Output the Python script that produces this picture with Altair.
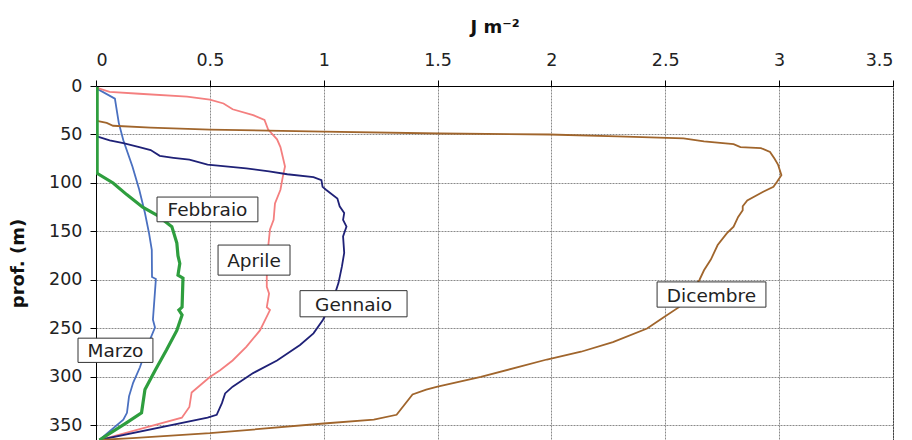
import altair as alt
import pandas as pd

# ---- data ----
marzo_d = [1, 3, 13, 38, 56, 83, 107, 131, 152, 169, 197, 199, 241, 249, 269, 290, 306, 320, 337, 344, 365]
marzo_x = [0.0, 0.005, 0.083, 0.10, 0.12, 0.16, 0.19, 0.215, 0.233, 0.245, 0.246, 0.263, 0.25, 0.259,
           0.224, 0.193, 0.163, 0.145, 0.136, 0.12, 0.015]

febbraio_d = [1, 90, 100, 112, 125, 133, 145, 162, 175, 183, 195, 198, 228, 231, 236, 252, 272, 293, 313, 337, 347, 365]
febbraio_x = [0.005, 0.005, 0.075, 0.135, 0.205, 0.267, 0.333, 0.355, 0.36, 0.368, 0.36, 0.382, 0.378, 0.364,
              0.378, 0.355, 0.31, 0.26, 0.215, 0.20, 0.135, 0.015]

aprile_d = [2, 6, 8, 11, 14, 18, 24, 30, 35, 45, 55, 63, 73, 83, 94, 107, 121, 138, 148, 166, 197, 207, 214,
            228, 231, 252, 269, 283, 293, 300, 316, 331, 342, 365]
aprile_x = [0.005, 0.06, 0.19, 0.40, 0.50, 0.56, 0.60, 0.69, 0.74, 0.756, 0.795, 0.81, 0.82, 0.83, 0.82, 0.81,
            0.786, 0.78, 0.764, 0.756, 0.75, 0.75, 0.76, 0.75, 0.764, 0.72, 0.66, 0.60, 0.545, 0.50, 0.42,
            0.41, 0.377, 0.015]

gennaio_d = [52, 56, 59, 63, 66, 72, 74, 76, 81, 85, 88, 91, 94, 97, 104, 107, 116, 124, 131, 138, 145, 155,
             172, 186, 203, 221, 241, 255, 267, 283, 296, 310, 317, 327, 339, 342, 365]
gennaio_x = [0.004, 0.06, 0.12, 0.19, 0.24, 0.28, 0.34, 0.41, 0.49, 0.66, 0.76, 0.84, 0.955, 0.99, 0.995, 1.01,
             1.06, 1.07, 1.09, 1.085, 1.10, 1.085, 1.09, 1.08, 1.065, 1.04, 0.997, 0.955, 0.896, 0.795, 0.69,
             0.60, 0.567, 0.553, 0.53, 0.49, 0.015]

dicembre_d = [36, 38, 41, 43, 45, 47, 49, 50, 52, 54, 57, 60, 63, 64, 68, 75, 81, 92, 99, 104, 109, 118, 124,
              128, 135, 145, 152, 164, 179, 190, 200, 228, 239, 250, 264, 274, 282, 300, 310, 313, 318, 339,
              344, 348, 358, 363, 365]
dicembre_x = [0.004, 0.047, 0.075, 0.24, 0.5, 1.0, 1.51, 1.99, 2.29, 2.58, 2.67, 2.80, 2.83, 2.92, 2.96, 2.98,
              2.995, 3.01, 2.99, 2.975, 2.93, 2.86, 2.84, 2.84, 2.82, 2.80, 2.77, 2.73, 2.70, 2.67, 2.65, 2.56,
              2.49, 2.42, 2.27, 2.13, 1.98, 1.69, 1.50, 1.45, 1.39, 1.32, 1.22, 1.0, 0.5, 0.16, 0.015]

series_names = ["Dicembre", "Gennaio", "Aprile", "Marzo", "Febbraio"]
series_colors = ["#a0652c", "#1f2177", "#f47f7f", "#4a70c0", "#2e9e3e"]

# label annotations (box bounds in data units and text centre)
label_names = ["Febbraio", "Aprile", "Gennaio", "Dicembre", "Marzo"]
label_x0 = [0.268, 0.536, 0.896, 2.464, -0.079]
label_x1 = [0.711, 0.852, 1.366, 2.942, 0.250]
label_d0 = [114.5, 164.0, 211.0, 202.0, 260.0]
label_d1 = [140.0, 195.0, 238.0, 228.0, 285.0]

x_ticks = [0, 0.5, 1, 1.5, 2, 2.5, 3, 3.5]
y_ticks = [0, 50, 100, 150, 200, 250, 300, 350]

FONT = "DejaVu Sans"

# ---- build tables ----
rows = []
for name, ds, xs in [("Marzo", marzo_d, marzo_x), ("Febbraio", febbraio_d, febbraio_x),
                     ("Aprile", aprile_d, aprile_x), ("Gennaio", gennaio_d, gennaio_x),
                     ("Dicembre", dicembre_d, dicembre_x)]:
    for i, (d, x) in enumerate(zip(ds, xs)):
        rows.append({"serie": name, "idx": i, "d": d, "x": x})
df = pd.DataFrame(rows)

lab = pd.DataFrame({"name": label_names, "x0": label_x0, "x1": label_x1, "d0": label_d0, "d1": label_d1})
lab["xc"] = (lab["x0"] + lab["x1"]) / 2
lab["dc"] = (lab["d0"] + lab["d1"]) / 2

xscale = alt.Scale(domain=[0, 3.5], nice=False, zero=False)
yscale = alt.Scale(domain=[0, 365], reverse=True, nice=False, zero=False)

xaxis = alt.Axis(orient="top", values=x_ticks, title="J m⁻²", labelExpr="'' + datum.value",
                 titlePadding=15)
yaxis = alt.Axis(values=y_ticks, title="prof. (m)", titlePadding=21)

cscale = alt.Scale(domain=series_names, range=series_colors)

lines_thin = alt.Chart(df).transform_filter(alt.datum.serie != "Febbraio").mark_line(
    strokeWidth=1.8, clip=True).encode(
    x=alt.X("x:Q", scale=xscale, axis=xaxis),
    y=alt.Y("d:Q", scale=yscale, axis=yaxis),
    color=alt.Color("serie:N", scale=cscale, legend=None),
    order=alt.Order("idx:Q"),
    detail="serie:N",
)
lines_thick = alt.Chart(df).transform_filter(alt.datum.serie == "Febbraio").mark_line(
    strokeWidth=3.2, clip=True).encode(
    x=alt.X("x:Q", scale=xscale),
    y=alt.Y("d:Q", scale=yscale),
    color=alt.Color("serie:N", scale=cscale, legend=None),
    order=alt.Order("idx:Q"),
)

boxes = alt.Chart(lab).mark_rect(fill="white", stroke="#333333", strokeWidth=1).encode(
    x=alt.X("x0:Q", scale=xscale), x2="x1:Q",
    y=alt.Y("d0:Q", scale=yscale), y2="d1:Q",
)
texts = alt.Chart(lab).mark_text(font=FONT, fontSize=18.5, color="#222222",
                                 align="center", baseline="middle", dy=1).encode(
    x=alt.X("xc:Q", scale=xscale),
    y=alt.Y("dc:Q", scale=yscale),
    text="name:N",
)

chart = alt.layer(lines_thin, lines_thick, boxes, texts).properties(
    width=797, height=354,
    autosize=alt.AutoSizeParams(type="none"),
    padding={"left": 88, "top": 78, "right": 11, "bottom": 0},
).configure_view(
    stroke="black", strokeWidth=1
).configure_axis(
    domainColor="black", tickColor="black", tickSize=6,
    gridColor="#8a8a8a", gridDash=[2, 1], gridWidth=1,
    labelFont=FONT, labelFontSize=17.5, labelColor="#222222",
    titleFont=FONT, titleFontSize=18, titleFontWeight="bold", titleColor="#111111",
).configure_axisX(labelPadding=11).configure_axisY(labelPadding=8)

chart.save("out.html", embed_options={"renderer": "svg", "actions": False})
